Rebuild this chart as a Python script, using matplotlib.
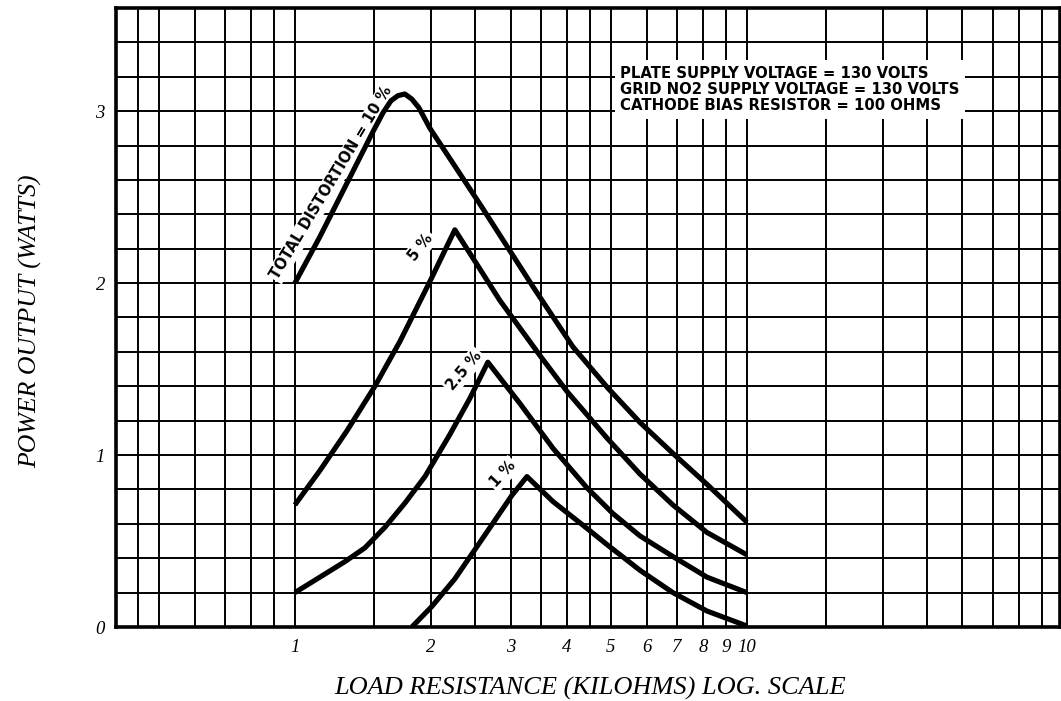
import matplotlib
matplotlib.use("Agg")
import matplotlib.pyplot as plt
from matplotlib.ticker import FixedLocator, NullFormatter

# ---- data ----
x_10 = [1.0, 1.136, 1.303, 1.488, 1.566, 1.631, 1.690, 1.751, 1.815, 1.881, 1.99, 2.566, 3.362, 4.121, 4.925, 5.80, 6.86, 8.16, 10.0]
y_10 = [2.00, 2.27, 2.58, 2.88, 2.99, 3.06, 3.09, 3.10, 3.07, 3.02, 2.90, 2.46, 1.98, 1.63, 1.39, 1.19, 1.01, 0.83, 0.61]

x_5 = [1.0, 1.136, 1.303, 1.503, 1.707, 1.99, 2.259, 2.527, 2.84, 3.483, 4.0, 4.90, 5.80, 6.86, 8.16, 10.0]
y_5 = [0.71, 0.91, 1.14, 1.40, 1.66, 2.01, 2.31, 2.11, 1.90, 1.58, 1.37, 1.10, 0.89, 0.71, 0.55, 0.42]

x_25 = [1.0, 1.136, 1.290, 1.428, 1.582, 1.751, 1.940, 2.203, 2.439, 2.673, 3.147, 3.723, 4.426, 5.053, 5.80, 6.86, 8.16, 10.0]
y_25 = [0.20, 0.29, 0.38, 0.46, 0.58, 0.72, 0.875, 1.12, 1.33, 1.54, 1.30, 1.04, 0.81, 0.66, 0.53, 0.41, 0.29, 0.20]

x_1 = [1.815, 2.01, 2.259, 2.502, 2.770, 3.020, 3.262, 3.723, 4.426, 4.90, 5.80, 6.86, 8.16, 10.0]
y_1 = [0.0, 0.12, 0.28, 0.45, 0.62, 0.765, 0.875, 0.73, 0.574, 0.48, 0.33, 0.20, 0.093, 0.006]

curve_labels = ["TOTAL DISTORTION = 10 %", "5 %", "2.5 %", "1 %"]
label_x = [1.207, 1.90, 2.367, 2.886]
label_y = [2.585, 2.21, 1.49, 0.89]
label_rot = [59, 52, 50, 47]

major_x = [1, 2, 3, 4, 5, 6, 7, 8, 9, 10]
major_x_labels = ["1", "2", "3", "4", "5", "6", "7", "8", "9", "10"]
minor_x = [0.45, 0.5, 0.6, 0.7, 0.8, 0.9, 1.5, 2.5, 3.5, 4.5, 15, 20, 25, 30, 35, 40, 45]
major_y = [0, 1, 2, 3]
major_y_labels = ["0", "1", "2", "3"]
minor_y = [0.2, 0.4, 0.6, 0.8, 1.2, 1.4, 1.6, 1.8, 2.2, 2.4, 2.6, 2.8, 3.2, 3.4]

note_lines = ["PLATE SUPPLY VOLTAGE = 130 VOLTS",
              "GRID NO2 SUPPLY VOLTAGE = 130 VOLTS",
              "CATHODE BIAS RESISTOR = 100 OHMS"]

# ---- figure ----
fig = plt.figure(figsize=(10.61, 7.01), dpi=100)
ax = fig.add_axes([116 / 1061, 74 / 701, 944 / 1061, 619 / 701])
ax.set_xscale("log")
ax.set_xlim(0.402, 49.3)
ax.set_ylim(0, 3.6)

serif = {"family": "Liberation Serif", "style": "italic"}

ax.xaxis.set_major_locator(FixedLocator(major_x))
ax.xaxis.set_minor_locator(FixedLocator(minor_x))
ax.xaxis.set_minor_formatter(NullFormatter())
ax.set_xticklabels(major_x_labels, fontdict=serif, fontsize=13.5)
ax.yaxis.set_major_locator(FixedLocator(major_y))
ax.yaxis.set_minor_locator(FixedLocator(minor_y))
ax.set_yticklabels(major_y_labels, fontdict=serif, fontsize=13.5)
ax.tick_params(which="both", length=0)
ax.tick_params(axis="x", pad=9)
ax.tick_params(axis="y", pad=8)

ax.set_axisbelow(True)
ax.grid(which="both", color="black", linewidth=1.4)
for s in ax.spines.values():
    s.set_linewidth(2.6)
    s.set_color("black")

for xs, ys in [(x_10, y_10), (x_5, y_5), (x_25, y_25), (x_1, y_1)]:
    ax.plot(xs, ys, color="black", linewidth=3.7, solid_capstyle="butt",
            solid_joinstyle="round", zorder=4)

for t, lx, ly, r in zip(curve_labels, label_x, label_y, label_rot):
    ax.text(lx, ly, t, rotation=r, rotation_mode="anchor", ha="center", va="center",
            fontsize=10.5, fontweight="bold", family="DejaVu Sans", zorder=3,
            bbox=dict(facecolor="white", edgecolor="none", pad=1.5))

ax.text(0.534, 0.907, "\n".join(note_lines), transform=ax.transAxes,
        ha="left", va="top", fontsize=10.7, fontweight="bold", family="DejaVu Sans",
        linespacing=1.12, zorder=3,
        bbox=dict(facecolor="white", edgecolor="none", pad=4))

ax.set_xlabel("LOAD RESISTANCE (KILOHMS) LOG. SCALE", fontdict=serif, fontsize=19)
ax.xaxis.set_label_coords((590 - 116) / 944, (627 - 688) / 619)
ax.xaxis.label.set_va("center")
ax.set_ylabel("POWER OUTPUT (WATTS)", fontdict=serif, fontsize=18.5)
ax.yaxis.set_label_coords((31 - 116) / 944, (627 - 321) / 619)
ax.yaxis.label.set_va("center")

fig.savefig("out.png", dpi=100)
